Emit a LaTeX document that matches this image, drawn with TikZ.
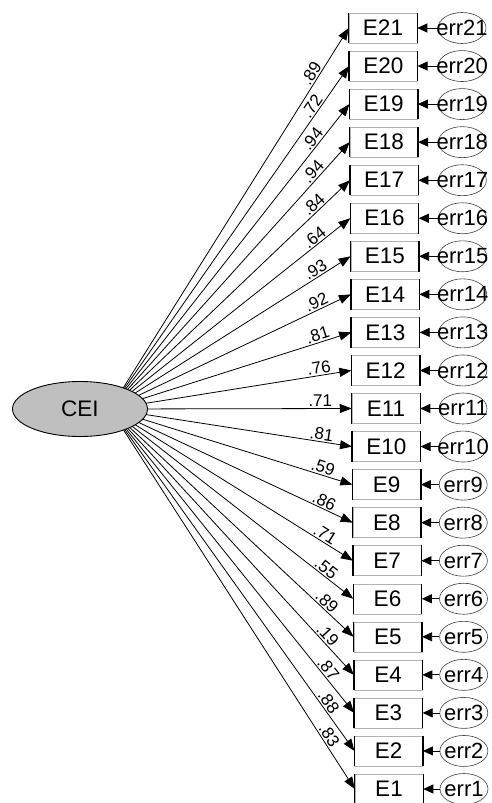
\documentclass[tikz,border=0pt]{standalone}
\usepackage{fontspec}
\setmainfont{Liberation Sans}
\usetikzlibrary{arrows.meta,shapes.geometric}
\begin{document}
\begin{tikzpicture}[x=1pt,y=-1pt,
  obs/.style={draw=gray!60,line width=0.5pt,minimum width=68pt,minimum height=30pt,inner sep=0pt,font=\fontsize{22.5}{24}\selectfont},
  errnode/.style={ellipse,draw=black!75,line width=0.6pt,minimum width=48pt,minimum height=31pt,inner sep=0pt,font=\fontsize{22}{23}\selectfont},
  load/.style={-{Triangle[length=12pt,width=9pt]},line width=0.8pt},
  errarrow/.style={-{Triangle[length=10pt,width=9pt]},line width=0.8pt},
  lbl/.style={sloped,above,pos=0.87,inner sep=1.2pt,font=\fontsize{17}{18}\selectfont},
  side/.style={line width=1.4pt},
  latent/.style={ellipse,draw=black,fill=black!25,line width=0.9pt,minimum width=135pt,minimum height=55pt,inner sep=0pt,font=\fontsize{22.5}{24}\selectfont}]
\useasboundingbox (0,0) rectangle (492,803);
\coordinate (src) at (110,409);
\foreach \i/\v in {1/.83,2/.88,3/.87,4/.19,5/.89,6/.55,7/.71,8/.86,9/.59,10/.81,11/.71,12/.76,13/.81,14/.92,15/.93,16/.64,17/.84,18/.94,19/.94,20/.72,21/.89} {
  \pgfmathsetmacro{\bx}{355-0.3*(\i-1)+34}
  \pgfmathsetmacro{\by}{789-38.05*(\i-1)}
  \pgfmathsetmacro{\ex}{464-0.1*(\i-1)}
  \node[obs] (e\i) at (\bx,\by) {E\i};
  \draw[side] (e\i.north west) -- (e\i.south west) (e\i.north east) -- (e\i.south east);
  \node[errnode] (r\i) at (\ex,\by) {\makebox[0pt]{err\i}};
  \draw[errarrow] (r\i) -- (e\i.east);
  \draw[load] (src) -- node[lbl]{\v} (e\i.west);
}
\node[latent] (cei) at (80,409) {CEI};
\end{tikzpicture}
\end{document}
